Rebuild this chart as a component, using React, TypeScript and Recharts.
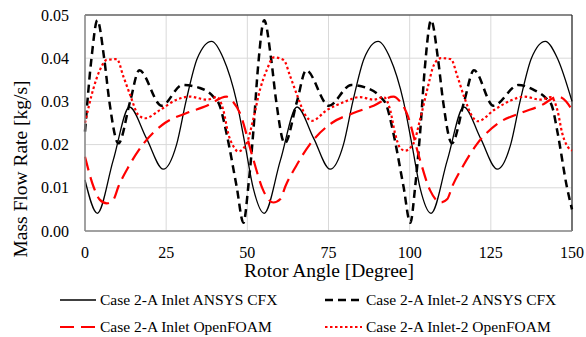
import React from 'react';
import { LineChart, Line, XAxis, YAxis, CartesianGrid, ReferenceLine, Label } from 'recharts';

document.body.style.margin = '0';

// rotor angle [deg], mass flow rate [kg/s]
const inletCfx: [number, number][] = [
    [0, 0.0118], [3.8, 0.0041], [8.7, 0.0164], [13.7, 0.0287], [18.9, 0.0215], [24.1, 0.0143],
    [28.2, 0.02], [31.1, 0.03], [34.6, 0.04], [39.0, 0.0439], [42.6, 0.04], [46.7, 0.03],
    [49.3, 0.02], [51.8, 0.01], [55.2, 0.0041], [60.2, 0.0164], [65.3, 0.0287], [70.4, 0.0215],
    [75.5, 0.0143], [79.6, 0.02], [82.5, 0.03], [86.0, 0.04], [90.3, 0.0439], [94.0, 0.04],
    [98.1, 0.03], [100.7, 0.02], [103.2, 0.01], [106.6, 0.0041], [111.6, 0.0164], [116.7, 0.0287],
    [121.8, 0.0215], [127.0, 0.0143], [131.1, 0.02], [134.0, 0.03], [137.5, 0.04], [141.8, 0.0439],
    [145.5, 0.04], [150, 0.03],
];

const inlet2Cfx: [number, number][] = [
    [0, 0.023], [2.0, 0.04], [3.8, 0.0488], [5.9, 0.04], [7.5, 0.03], [10.3, 0.0203],
    [13.9, 0.03], [16.7, 0.0372], [23.6, 0.029], [30.0, 0.0338], [35.4, 0.0331], [39.5, 0.0311],
    [41.5, 0.029], [43.6, 0.0226], [46.7, 0.0103], [48.8, 0.0019], [50.3, 0.0103], [51.8, 0.0226],
    [53.3, 0.038], [55.2, 0.0488], [57.3, 0.04], [58.9, 0.03], [61.5, 0.0203], [65.3, 0.03],
    [68.1, 0.0372], [75.1, 0.029], [82.0, 0.0338], [86.8, 0.0331], [90.9, 0.0311], [92.9, 0.029],
    [95.0, 0.0226], [98.1, 0.0103], [100.2, 0.0019], [101.7, 0.0103], [103.2, 0.0226], [104.7, 0.038],
    [106.6, 0.0488], [108.7, 0.04], [110.3, 0.03], [113.0, 0.0203], [116.8, 0.03], [119.8, 0.0372],
    [125.8, 0.029], [133.5, 0.0338], [138.1, 0.0327], [142.2, 0.0306], [143.8, 0.029], [145.6, 0.0226],
    [148.4, 0.0103], [150, 0.005],
];

const inletFoam: [number, number][] = [
    [0, 0.0172], [2.6, 0.0103], [4.6, 0.0072], [6.7, 0.0064], [8.7, 0.0072], [10.3, 0.0103],
    [13.5, 0.015], [17.8, 0.02], [24.6, 0.025], [31.3, 0.0273], [37.5, 0.029], [43.6, 0.0311],
    [45.5, 0.03], [47.7, 0.0273], [51.6, 0.0172], [54.9, 0.0094], [58.0, 0.0066], [60.2, 0.0074],
    [61.7, 0.0103], [65.0, 0.015], [69.2, 0.02], [76.0, 0.025], [82.7, 0.0273], [88.9, 0.029],
    [95.0, 0.0311], [97.0, 0.03], [99.1, 0.0273], [102.9, 0.0172], [106.3, 0.0094], [109.6, 0.0066],
    [111.6, 0.0074], [113.1, 0.0103], [116.4, 0.015], [120.6, 0.02], [127.4, 0.025], [134.1, 0.0273],
    [140.3, 0.029], [145.8, 0.0311], [148.2, 0.03], [150, 0.028],
];

const inlet2Foam: [number, number][] = [
    [0, 0.025], [2.6, 0.033], [4.6, 0.0373], [6.7, 0.0396], [9.8, 0.0398], [11.8, 0.0358],
    [13.9, 0.0315], [16.4, 0.0269], [18.5, 0.0261], [23.1, 0.028], [28.2, 0.0304], [32.3, 0.0311],
    [37.5, 0.0304], [40.6, 0.031], [42.6, 0.028], [44.1, 0.0226], [45.7, 0.0196], [47.2, 0.0184],
    [49.8, 0.0203], [51.8, 0.0258], [54.0, 0.033], [56.0, 0.0373], [58.1, 0.0402], [61.2, 0.0396],
    [63.2, 0.0358], [65.3, 0.0315], [67.8, 0.0269], [69.9, 0.0255], [74.5, 0.028], [79.6, 0.0298],
    [84.7, 0.031], [88.9, 0.0304], [92.0, 0.031], [94.0, 0.028], [95.5, 0.0226], [97.1, 0.0192],
    [98.6, 0.0186], [101.2, 0.0203], [103.2, 0.0258], [105.5, 0.033], [107.5, 0.0385], [109.6, 0.04],
    [112.7, 0.0398], [114.7, 0.0358], [116.8, 0.031], [119.3, 0.0265], [121.0, 0.0254], [126.0, 0.028],
    [131.1, 0.0302], [135.2, 0.0311], [140.4, 0.0304], [143.5, 0.031], [145.5, 0.028], [147.0, 0.0226],
    [148.6, 0.0196], [150, 0.0186],
];

const angleTicks = [0, 25, 50, 75, 100, 125, 150];
const rateTicks = [0, 0.01, 0.02, 0.03, 0.04, 0.05];

const FONT = '"Times New Roman", "Liberation Serif", serif';

const series = [
    { name: 'Case 2-A Inlet ANSYS CFX', points: inletCfx, color: '#000000', width: 1.3, dash: undefined },
    { name: 'Case 2-A Inlet-2 ANSYS CFX', points: inlet2Cfx, color: '#000000', width: 2.5, dash: '8 5' },
    { name: 'Case 2-A Inlet OpenFOAM', points: inletFoam, color: '#ff0000', width: 2.2, dash: '14 7' },
    { name: 'Case 2-A Inlet-2 OpenFOAM', points: inlet2Foam, color: '#ff0000', width: 2.2, dash: '2.5 2.5' },
];

const toPoints = (pairs: [number, number][]) => pairs.map(([x, v]) => ({ x, v }));

function LegendItem({ s, left, top, sampleWidth }: any) {
    return (
        <div style={{ position: 'absolute', left, top, display: 'flex', alignItems: 'center', height: 20 }}>
            <svg width={sampleWidth} height={6} style={{ marginRight: 4 }}>
                <line x1={0} y1={3} x2={sampleWidth} y2={3} stroke={s.color} strokeWidth={s.width} strokeDasharray={s.dash} />
            </svg>
            <span style={{ fontFamily: FONT, fontSize: 15.5, color: '#000', whiteSpace: 'nowrap' }}>{s.name}</span>
        </div>
    );
}

export default function App() {
    return (
        <div style={{ position: 'relative', width: 586, height: 337, background: '#fff' }}>
            <LineChart width={586} height={337} margin={{ top: 15, right: 14, left: 0, bottom: 61 }}>
                <CartesianGrid stroke="#d9d9d9" strokeWidth={1} />
                <XAxis
                    type="number"
                    dataKey="x"
                    domain={[0, 150]}
                    ticks={angleTicks}
                    height={45}
                    tickLine={false}
                    tickMargin={10}
                    axisLine={{ stroke: '#898989', strokeWidth: 1.5 }}
                    tick={{ fontFamily: FONT, fontSize: 16, fill: '#000' }}
                >
                    <Label
                        content={() => (
                            <text x={329} y={277} textAnchor="middle" fontFamily={FONT} fontSize={19.5} fill="#000">
                                Rotor Angle [Degree]
                            </text>
                        )}
                    />
                </XAxis>
                <YAxis
                    type="number"
                    domain={[0, 0.05]}
                    ticks={rateTicks}
                    width={85}
                    tickLine={false}
                    tickMargin={10}
                    axisLine={{ stroke: '#898989', strokeWidth: 1.5 }}
                    tickFormatter={(v: number) => v.toFixed(2)}
                    tick={{ fontFamily: FONT, fontSize: 16, fill: '#000' }}
                >
                    <Label
                        content={() => (
                            <text
                                x={20}
                                y={169}
                                transform="rotate(-90 20 169)"
                                textAnchor="middle"
                                dominantBaseline="central"
                                fontFamily={FONT}
                                fontSize={19.5}
                                fill="#000"
                            >
                                Mass Flow Rate [kg/s]
                            </text>
                        )}
                    />
                </YAxis>
                <ReferenceLine y={0.05} stroke="#262626" strokeWidth={1.2} />
                <ReferenceLine x={150} stroke="#262626" strokeWidth={1.2} />
                {series.map((s) => (
                    <Line
                        key={s.name}
                        data={toPoints(s.points)}
                        dataKey="v"
                        type="monotone"
                        stroke={s.color}
                        strokeWidth={s.width}
                        strokeDasharray={s.dash}
                        dot={false}
                        activeDot={false}
                        isAnimationActive={false}
                    />
                ))}
            </LineChart>

            <LegendItem s={series[0]} left={60} top={290} sampleWidth={36} />
            <LegendItem s={series[1]} left={325} top={290} sampleWidth={37} />
            <LegendItem s={series[2]} left={60} top={317} sampleWidth={36} />
            <LegendItem s={series[3]} left={325} top={317} sampleWidth={37} />
        </div>
    );
}
